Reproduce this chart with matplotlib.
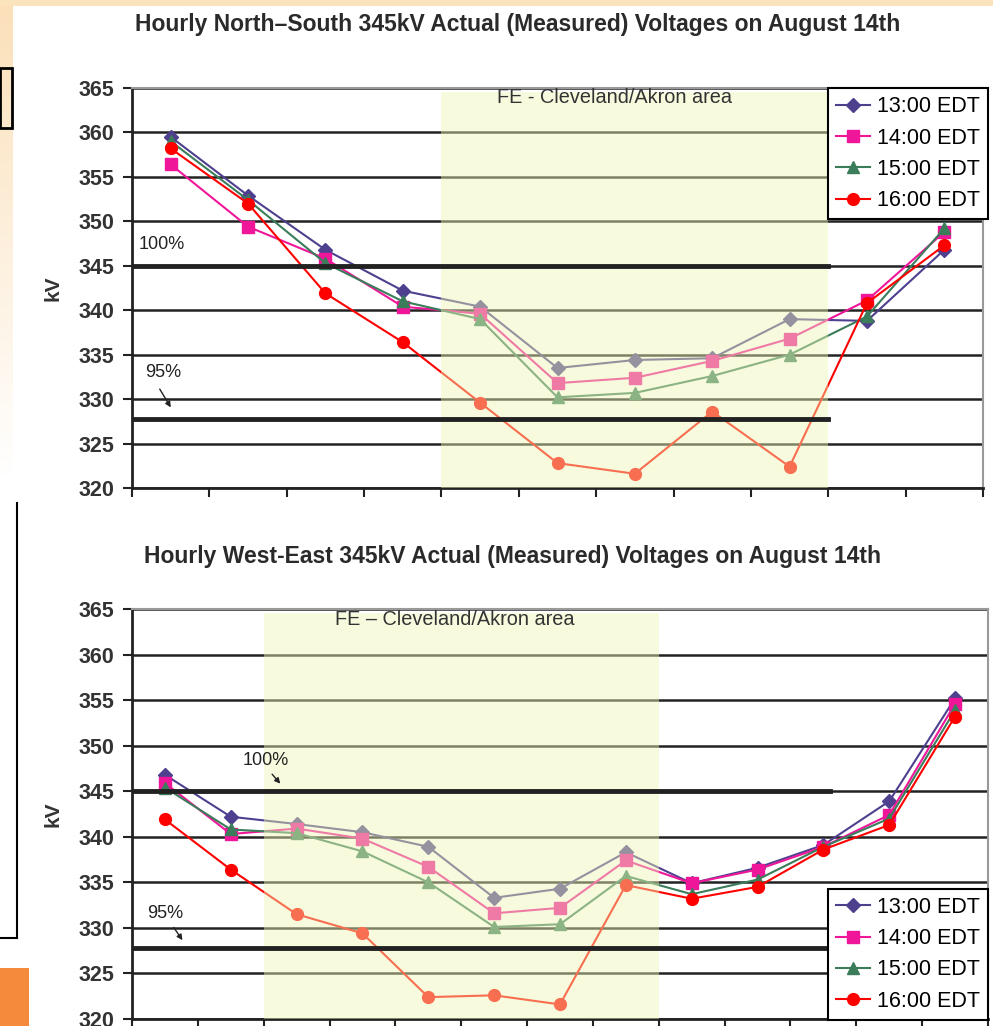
import numpy as np
import matplotlib
matplotlib.use('Agg')
import matplotlib.pyplot as plt
from matplotlib.patches import Rectangle

plt.rcParams['font.family'] = ['Liberation Sans', 'DejaVu Sans']

# data (kV)
series = ['13:00 EDT', '14:00 EDT', '15:00 EDT', '16:00 EDT']
colors = ['#4F3F8F', '#F0169A', '#3B7D5B', '#FF0000']
markers = ['D', 's', '^', 'o']

ns_1300 = [359.5, 352.9, 346.8, 342.2, 340.4, 333.5, 334.4, 334.6, 339.0, 338.8, 346.8]
ns_1400 = [356.4, 349.4, 345.8, 340.4, 339.6, 331.8, 332.4, 334.3, 336.8, 341.1, 348.8]
ns_1500 = [359.0, 352.4, 345.3, 341.0, 339.0, 330.2, 330.7, 332.6, 335.0, 339.3, 349.2]
ns_1600 = [358.2, 352.0, 341.9, 336.4, 329.6, 322.8, 321.6, 328.6, 322.4, 340.8, 347.3]

we_1300 = [346.8, 342.2, 341.4, 340.5, 338.9, 333.3, 334.3, 338.3, 334.9, 336.6, 339.1, 343.9, 355.2]
we_1400 = [345.9, 340.3, 340.9, 339.8, 336.7, 331.6, 332.2, 337.4, 334.9, 336.4, 338.9, 342.4, 354.6]
we_1500 = [345.4, 340.8, 340.4, 338.4, 335.0, 330.1, 330.4, 335.7, 333.7, 335.3, 338.9, 342.0, 353.9]
we_1600 = [341.9, 336.4, 331.5, 329.4, 322.4, 322.6, 321.6, 334.7, 333.2, 334.5, 338.6, 341.3, 353.2]

v100 = 345.0
v95 = 327.75
yticks = np.arange(320, 366, 5)

W, H = 993, 1026
fig = plt.figure(figsize=(W / 100, H / 100), dpi=100)


def rect(x, y, w, h):
    # pixel box (top-left origin) -> figure fraction
    return [x / W, 1 - (y + h) / H, w / W, h / H]


# slide background
bg = fig.add_axes([0, 0, 1, 1], zorder=-5)
bg.set_xlim(0, W)
bg.set_ylim(H, 0)
bg.axis('off')
grad = np.linspace(0, 1, 100)[:, None]
peach = np.array([251, 224, 185]) / 255
img = peach * (1 - grad[..., None]) + np.ones(3) * grad[..., None]
bg.imshow(img, extent=(0, 13, 480, 0), aspect='auto')
bg.add_patch(Rectangle((0, 0), W, 6, color='#FBE3BE', lw=0))
bg.add_patch(Rectangle((0, 68), 12, 60, fill=False, ec='black', lw=2))
bg.plot([17, 17], [503, 938], color='black', lw=1.5)
bg.plot([0, 17], [938, 938], color='black', lw=1.5)
bg.add_patch(Rectangle((0, 968), 29, 58, color='#F58A3D', lw=0))


def draw(ax, data, shade, line_end, title, title_x, title_y, fe_x, fe_text, notes):
    n = len(data[0])
    x = np.arange(n)
    for vals, c, m, lab in zip(data, colors, markers, series):
        ax.plot(x, vals, color=c, marker=m, markersize=8.5 if m != 'D' else 7.5,
                lw=1.5, label=lab, zorder=3)
    ax.add_patch(Rectangle((shade[0], 319.6), shade[1] - shade[0], 45.0,
                           color='#EEF6B4', alpha=0.45, lw=0, zorder=4))
    ax.plot([-0.5, line_end], [v100, v100], color='#222222', lw=3.5, zorder=5)
    ax.plot([-0.5, line_end], [v95, v95], color='#222222', lw=3.5, zorder=5)
    ax.set_xlim(-0.5, n - 0.5)
    ax.set_ylim(320, 365)
    ax.set_xticks(np.arange(n + 1) - 0.5)
    ax.set_xticklabels([])
    ax.set_yticks(yticks)
    ax.tick_params(axis='both', direction='out', length=6.5, width=1.5,
                   color='#222222')
    ax.tick_params(axis='y', labelsize=15.5, pad=6)
    for t in ax.get_yticklabels():
        t.set_fontweight('bold')
        t.set_color('#333333')
    ax.yaxis.grid(True, color='#222222', lw=1.8, zorder=1)
    ax.set_axisbelow(True)
    for s in ['left', 'bottom']:
        ax.spines[s].set_color('#222222')
        ax.spines[s].set_linewidth(2)
    for s in ['top', 'right']:
        ax.spines[s].set_color('#999999')
        ax.spines[s].set_linewidth(1.5)
    ax.set_ylabel('kV', fontsize=15, fontweight='bold', color='#333333',
                  labelpad=12)
    ax.text(fe_x, 363.9, fe_text, fontsize=14.3, color='#333333',
            va='center', ha='left', zorder=6)
    for txt, tx, ty, ax0, ay0, ax1, ay1 in notes:
        ax.text(tx, ty, txt, fontsize=13, ha='center', va='center', zorder=6,
                color='#222222')
        if ax0 or ax1:
            ax.annotate('', xy=(ax1, ay1), xytext=(ax0, ay0), zorder=6,
                        arrowprops=dict(arrowstyle='-|>', color='#222222',
                                        lw=1, mutation_scale=8))
    fig.text(title_x / W, 1 - title_y / H, title, fontsize=16.5,
             fontweight='bold', color='#2a2a2a', ha='center', va='center')


def legend(ax, loc, anchor_y):
    leg = ax.legend(loc=loc, bbox_to_anchor=(988 / W, 1 - anchor_y / H),
                    bbox_transform=fig.transFigure, borderaxespad=0,
                    fontsize=15.5, labelspacing=0.48, handlelength=1.6,
                    handletextpad=0.3, borderpad=0.38, fancybox=False,
                    framealpha=1, edgecolor='black')
    leg.get_frame().set_linewidth(1.5)
    leg.set_zorder(10)


ax1 = fig.add_axes(rect(132, 88, 851, 400))
draw(ax1, [ns_1300, ns_1400, ns_1500, ns_1600], (3.5, 8.5), 8.5,
     'Hourly North\u2013South 345kV Actual (Measured) Voltages on August 14th',
     518, 24, 4.22, 'FE - Cleveland/Akron area',
     [('100%', -0.11, 347.45, 0, 0, 0, 0),
      ('95%', -0.1, 333.0, -0.16, 331.4, 0.02, 328.8)])
legend(ax1, 'upper right', 88)

ax2 = fig.add_axes(rect(132, 609, 856, 410))
draw(ax2, [we_1300, we_1400, we_1500, we_1600], (1.5, 7.5), 10.1,
     'Hourly West-East 345kV Actual (Measured) Voltages on August 14th',
     512, 557, 2.58, 'FE \u2013 Cleveland/Akron area',
     [('100%', 1.535, 348.4, 1.6, 347.1, 1.78, 345.6),
      ('95%', 0.0, 331.6, 0.11, 330.3, 0.29, 328.4)])
legend(ax2, 'lower right', 1020)

fig.savefig('out.png', dpi=100)
